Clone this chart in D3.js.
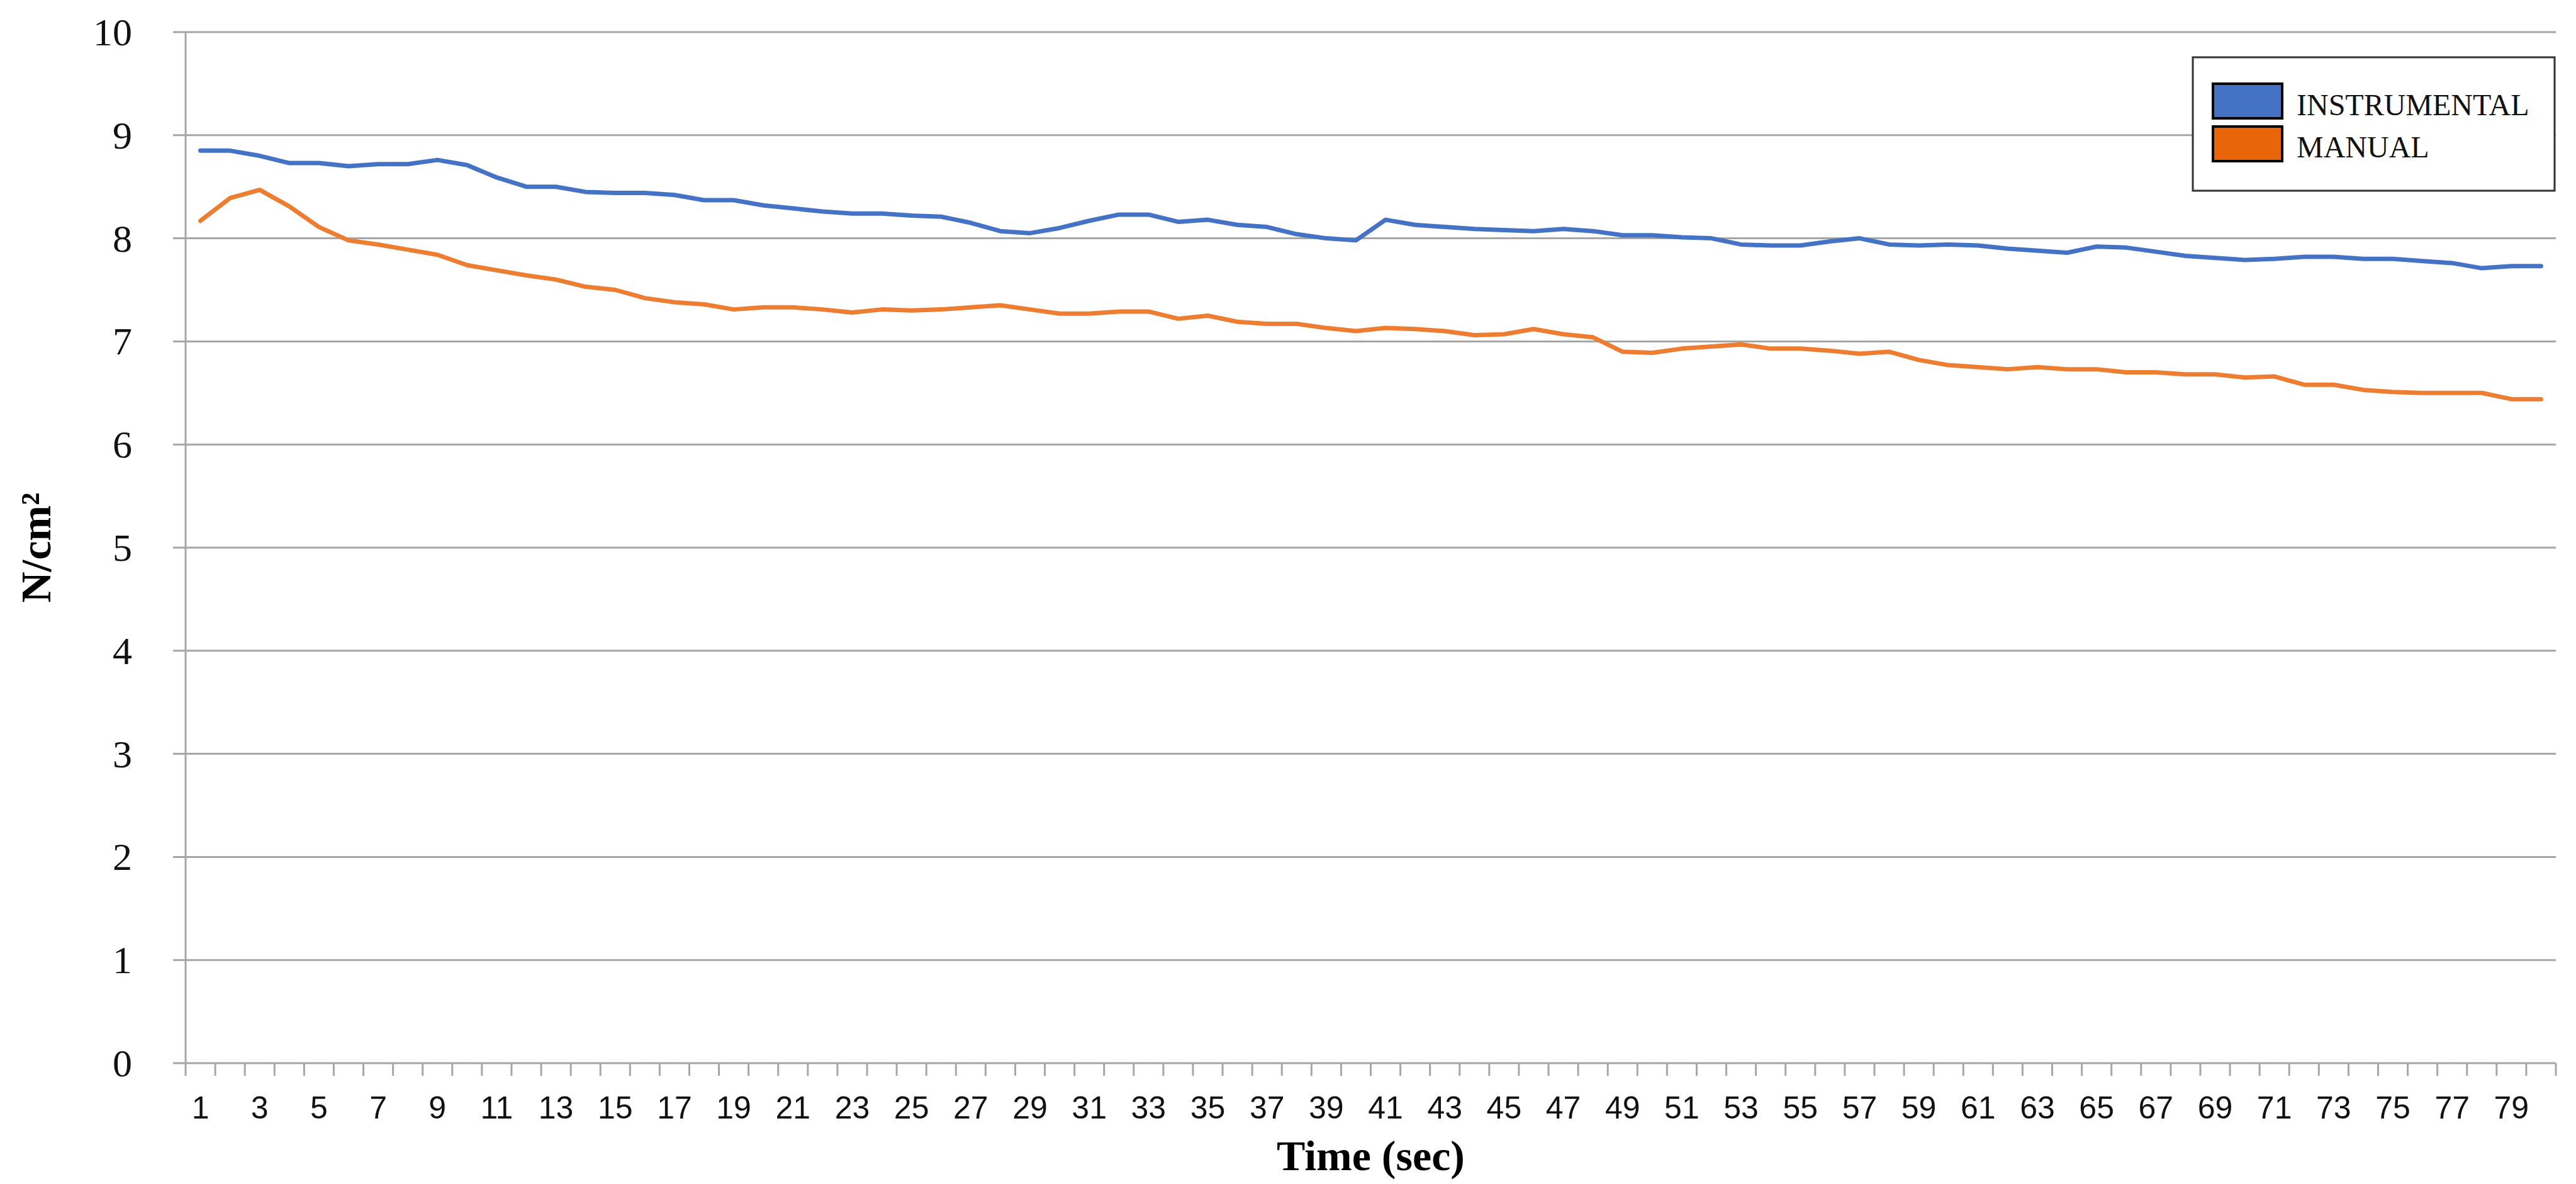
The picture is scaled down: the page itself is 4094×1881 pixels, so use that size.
<!DOCTYPE html>
<html>
<head>
<meta charset="utf-8">
<script src="https://cdn.jsdelivr.net/npm/d3@7"></script>
<style>
  html, body { margin: 0; padding: 0; background: #fff; }
  svg { display: block; }
</style>
</head>
<body>
<svg id="chart" width="4094" height="1881"></svg>
<script>
const categories = d3.range(1, 81).map(String);
const instrumental = [
  8.85, 8.85, 8.80, 8.73, 8.73, 8.70, 8.72, 8.72, 8.76, 8.71,
  8.59, 8.50, 8.50, 8.45, 8.44, 8.44, 8.42, 8.37, 8.37, 8.32,
  8.29, 8.26, 8.24, 8.24, 8.22, 8.21, 8.15, 8.07, 8.05, 8.10,
  8.17, 8.23, 8.23, 8.16, 8.18, 8.13, 8.11, 8.04, 8.00, 7.98,
  8.18, 8.13, 8.11, 8.09, 8.08, 8.07, 8.09, 8.07, 8.03, 8.03,
  8.01, 8.00, 7.94, 7.93, 7.93, 7.97, 8.00, 7.94, 7.93, 7.94,
  7.93, 7.90, 7.88, 7.86, 7.92, 7.91, 7.87, 7.83, 7.81, 7.79,
  7.80, 7.82, 7.82, 7.80, 7.80, 7.78, 7.76, 7.71, 7.73, 7.73
];
const manual = [
  8.17, 8.39, 8.47, 8.31, 8.11, 7.98, 7.94, 7.89, 7.84, 7.74,
  7.69, 7.64, 7.60, 7.53, 7.50, 7.42, 7.38, 7.36, 7.31, 7.33,
  7.33, 7.31, 7.28, 7.31, 7.30, 7.31, 7.33, 7.35, 7.31, 7.27,
  7.27, 7.29, 7.29, 7.22, 7.25, 7.19, 7.17, 7.17, 7.13, 7.10,
  7.13, 7.12, 7.10, 7.06, 7.07, 7.12, 7.07, 7.04, 6.90, 6.89,
  6.93, 6.95, 6.97, 6.93, 6.93, 6.91, 6.88, 6.90, 6.82, 6.77,
  6.75, 6.73, 6.75, 6.73, 6.73, 6.70, 6.70, 6.68, 6.68, 6.65,
  6.66, 6.58, 6.58, 6.53, 6.51, 6.50, 6.50, 6.50, 6.44, 6.44
];
const seriesNames = ["INSTRUMENTAL", "MANUAL"];
const lineColors = ["#4472C4", "#ED7D31"];
const swatchColors = ["#4472C4", "#E8650A"];
const yTicks = [0, 1, 2, 3, 4, 5, 6, 7, 8, 9, 10];
const xLabelCats = categories.filter((d, i) => i % 2 === 0);
const xTitle = "Time (sec)";
const yTitle = "N/cm²";

(function () {
const svg = d3.select("#chart");
const pL = 295, pR = 4062, pT = 51, pB = 1689;
const gridColor = "#a6a6a6";

const x = d3.scaleBand().domain(categories).range([pL, pR]).padding(0);
const y = d3.scaleLinear().domain([0, 10]).range([pB, pT]);
const cx = d => x(d) + x.bandwidth() / 2;

// gridlines
svg.append("g").selectAll("line").data(yTicks).join("line")
  .attr("x1", pL - 20).attr("x2", pR)
  .attr("y1", d => y(d)).attr("y2", d => y(d))
  .attr("stroke", gridColor).attr("stroke-width", 3);

// y axis line
svg.append("line").attr("x1", pL).attr("x2", pL).attr("y1", pT).attr("y2", pB)
  .attr("stroke", gridColor).attr("stroke-width", 3);

// y labels
svg.append("g").selectAll("text").data(yTicks).join("text")
  .attr("x", 210).attr("y", d => y(d))
  .attr("text-anchor", "end").attr("dominant-baseline", "central")
  .attr("font-family", "'Liberation Serif', 'DejaVu Serif', serif")
  .attr("font-size", 62).attr("fill", "#111")
  .text(d => d);

// x ticks at category boundaries
const boundaries = categories.map(c => x(c)).concat([pR]);
svg.append("g").selectAll("line").data(boundaries).join("line")
  .attr("x1", d => d).attr("x2", d => d)
  .attr("y1", pB).attr("y2", pB + 20)
  .attr("stroke", gridColor).attr("stroke-width", 3);

// x labels
svg.append("g").selectAll("text").data(xLabelCats).join("text")
  .attr("x", d => cx(d)).attr("y", 1760)
  .attr("text-anchor", "middle").attr("dominant-baseline", "central")
  .attr("font-family", "'Liberation Sans', Arial, sans-serif")
  .attr("font-size", 50).attr("fill", "#111")
  .text(d => d);

// lines
const line = d3.line().x((d, i) => cx(categories[i])).y(d => y(d));
[instrumental, manual].forEach((s, k) => {
  svg.append("path").datum(s)
    .attr("d", line)
    .attr("fill", "none")
    .attr("stroke", lineColors[k])
    .attr("stroke-width", 7)
    .attr("stroke-linejoin", "round")
    .attr("stroke-linecap", "round");
});

// axis titles
svg.append("text")
  .attr("x", (pL + pR) / 2).attr("y", 1836)
  .attr("text-anchor", "middle").attr("dominant-baseline", "central")
  .attr("font-family", "'Liberation Serif', 'DejaVu Serif', serif")
  .attr("font-weight", "bold").attr("font-size", 68).attr("fill", "#000")
  .text(xTitle);

svg.append("text")
  .attr("transform", `translate(57, ${(pT + pB) / 2}) rotate(-90)`)
  .attr("text-anchor", "middle").attr("dominant-baseline", "central")
  .attr("font-family", "'Liberation Serif', 'DejaVu Serif', serif")
  .attr("font-weight", "bold").attr("font-size", 68).attr("fill", "#000")
  .text(yTitle);

// legend
const lg = svg.append("g");
lg.append("rect").attr("x", 3485).attr("y", 91).attr("width", 575).attr("height", 212)
  .attr("fill", "#fff").attr("stroke", "#333").attr("stroke-width", 3);
const swY = [133, 201];
const txtY = [183, 250];
seriesNames.forEach((n, i) => {
  lg.append("rect").attr("x", 3517).attr("y", swY[i]).attr("width", 110).attr("height", 55)
    .attr("fill", swatchColors[i]).attr("stroke", "#000").attr("stroke-width", 4);
  lg.append("text").attr("x", 3650).attr("y", txtY[i])
    .attr("font-family", "'Liberation Serif', 'DejaVu Serif', serif")
    .attr("font-size", 48).attr("fill", "#111")
    .text(n);
});
})();
</script>
</body>
</html>
